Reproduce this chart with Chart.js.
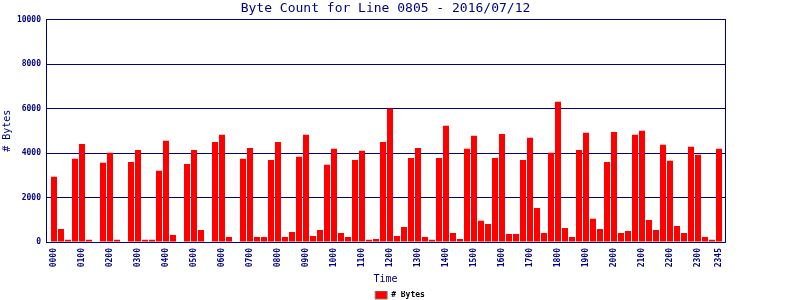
<!DOCTYPE html>
<html>
<head>
<meta charset="utf-8">
<script src="https://cdn.jsdelivr.net/npm/chart.js@4/dist/chart.umd.min.js"></script>
<style>
  body { margin: 0; background: #fff; }
  canvas { display: block; }
</style>
</head>
<body>
<canvas id="bytesChart" width="800" height="300"></canvas>
<script>
// dados: uma barra a cada 15 minutos
const times = [];
for (let h = 0; h < 24; h++) {
  for (let m = 0; m < 60; m += 15) {
    times.push(String(h).padStart(2, '0') + String(m).padStart(2, '0'));
  }
}
const bytes = [
  2930, 590, 100, 3740, 4410, 100, 0, 3560, 4010, 100, 0, 3600,
  4140, 100, 100, 3200, 4550, 320, 0, 3510, 4140, 540, 0, 4500,
  4820, 230, 0, 3740, 4230, 230, 230, 3690, 4500, 230, 450, 3830,
  4820, 270, 540, 3470, 4190, 400, 230, 3690, 4100, 100, 140, 4500,
  6000, 270, 680, 3780, 4230, 230, 100, 3780, 5230, 400, 140, 4190,
  4780, 950, 810, 3780, 4860, 360, 360, 3690, 4690, 1530, 400, 4010,
  6310, 630, 230, 4140, 4910, 1040, 590, 3600, 4950, 400, 500, 4820,
  5000, 990, 540, 4370, 3650, 720, 400, 4280, 3920, 230, 100, 4190
];
const shownTicks = [0, 4, 8, 12, 16, 20, 24, 28, 32, 36, 40, 44, 48,
  52, 56, 60, 64, 68, 72, 76, 80, 84, 88, 92, 95];
const yTicks = [0, 2000, 4000, 6000, 8000, 10000];

const navy = '#000080';
const mono = '"DejaVu Sans Mono", "Liberation Mono", monospace';
const tickFont = { family: mono, size: 8, weight: 'bold' };

const ctx = document.getElementById('bytesChart').getContext('2d');
const chart = new Chart(ctx, {
  type: 'bar',
  data: {
    datasets: [{
      label: '# Bytes',
      data: bytes.map((v, i) => ({ x: i, y: v })),
      backgroundColor: '#ff0000',
      borderWidth: 0,
      inflateAmount: 0,
      barThickness: 6
    }]
  },
  options: {
    responsive: false,
    animation: false,
    layout: { padding: { top: 0, left: 0, right: 0, bottom: -9 } },
    scales: {
      x: {
        type: 'linear',
        offset: false,
        min: -8 / 7,
        max: 95 + 6 / 7,
        grid: { display: false, drawTicks: false, offset: false },
        border: { display: true, color: navy, width: 1 },
        afterBuildTicks: (scale) => {
          scale.ticks = shownTicks.map(v => ({ value: v }));
        },
        afterFit: (scale) => { scale.height = 49; },
        ticks: {
          autoSkip: false,
          minRotation: 90,
          maxRotation: 90,
          padding: 6,
          color: navy,
          font: tickFont,
          callback: (v) => times[v]
        },
        title: {
          display: true,
          text: 'Time',
          color: navy,
          font: { family: mono, size: 10 },
          padding: { top: 0, bottom: 6 }
        }
      },
      y: {
        position: 'left',
        min: 0,
        max: 10000,
        afterBuildTicks: (scale) => {
          scale.ticks = yTicks.map(v => ({ value: v }));
        },
        afterFit: (scale) => { scale.width = 46; },
        grid: { color: navy, lineWidth: 1, drawTicks: false },
        border: { display: true, color: navy, width: 1 },
        ticks: { padding: 5, color: navy, font: tickFont, callback: (v) => String(v) },
        title: {
          display: true,
          text: '# Bytes',
          color: navy,
          font: { family: mono, size: 10 },
          padding: { top: 1.5, bottom: 0 }
        }
      },
      yRight: {
        position: 'right',
        min: 0,
        max: 10000,
        grid: { display: false, drawTicks: false },
        border: { display: true, color: navy, width: 1 },
        ticks: { display: false },
        afterFit: (scale) => { scale.width = 75; }
      }
    },
    plugins: {
      title: {
        display: true,
        fullSize: false,
        text: 'Byte Count for Line 0805 - 2016/07/12',
        color: navy,
        font: { family: mono, size: 13, weight: 'normal' },
        padding: { top: 1, bottom: 3 }
      },
      legend: {
        position: 'bottom',
        labels: {
          boxWidth: 12,
          boxHeight: 8,
          padding: 0,
          color: navy,
          font: tickFont,
          generateLabels: () => [{
            text: '# Bytes',
            fillStyle: '#ff0000',
            strokeStyle: '#808080',
            lineWidth: 1,
            datasetIndex: 0,
            hidden: false
          }]
        }
      },
      tooltip: { enabled: false }
    }
  }
});
</script>
</body>
</html>
